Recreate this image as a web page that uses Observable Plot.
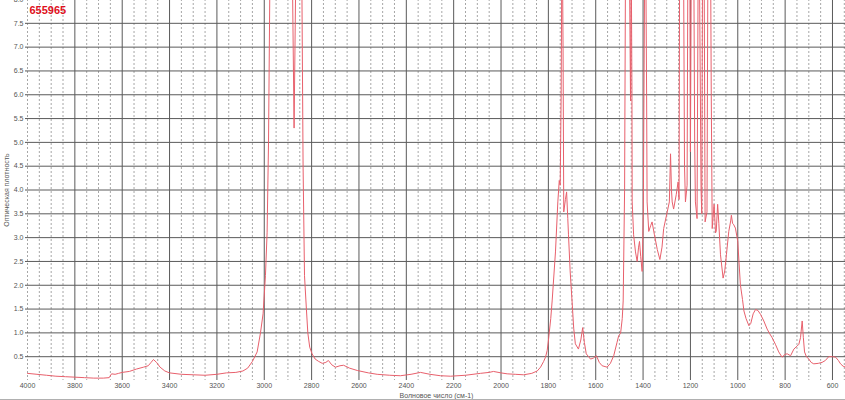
<!DOCTYPE html>
<html>
<head>
<meta charset="utf-8">
<script src="https://cdn.jsdelivr.net/npm/d3@7"></script>
<script src="https://cdn.jsdelivr.net/npm/@observablehq/plot@0.6"></script>
<style>
  html, body { margin: 0; padding: 0; background: #fff; }
  #chart { width: 845px; height: 399px; border-bottom: 1px solid #b0b0b0; overflow: hidden; }
  svg { font-family: "Liberation Sans", Arial, sans-serif; }
</style>
</head>
<body>
<div id="chart"></div>
<script>
const title = "655965";
const xLabel = "Волновое число (см-1)";
const yLabel = "Оптическая плотность";

const xTicks = [4000, 3800, 3600, 3400, 3200, 3000, 2800, 2600, 2400, 2200, 2000, 1800, 1600, 1400, 1200, 1000, 800, 600];
const yTicks = [0.5, 1.0, 1.5, 2.0, 2.5, 3.0, 3.5, 4.0, 4.5, 5.0, 5.5, 6.0, 6.5, 7.0, 7.5, 8.0];

// wavenumber (cm-1) and absorbance; values above 8 run off the top
const wavenumber = [
  4000, 3960, 3920, 3880, 3840, 3800, 3760, 3720, 3680, 3655, 3645, 3630, 3615, 3600, 3570, 3540, 3510, 3490, 3478, 3468,
  3455, 3440, 3420, 3400, 3350, 3300, 3250, 3200, 3160, 3120, 3090, 3070, 3050, 3030, 3016, 3005, 2995, 2988, 2982, 2976,
  2970, 2950, 2920, 2890, 2880, 2874, 2868, 2860, 2850, 2842, 2836, 2830, 2822, 2816, 2808, 2798, 2785, 2770, 2755, 2740,
  2729, 2715, 2699, 2680, 2665, 2640, 2607, 2560, 2523, 2470, 2425, 2380, 2340, 2300, 2256, 2213, 2150, 2087, 2050, 2032,
  2000, 1974, 1940, 1904, 1870, 1847, 1833, 1820, 1812, 1805, 1800, 1790, 1784, 1770, 1760, 1754, 1750, 1746, 1742, 1738,
  1735, 1728, 1723, 1718, 1715, 1708, 1700, 1693, 1686, 1673, 1663, 1655, 1648, 1640, 1622, 1610, 1597, 1585, 1573, 1552,
  1538, 1524, 1510, 1503, 1495, 1488, 1484, 1478, 1474, 1465, 1458, 1453, 1450, 1447, 1446, 1440, 1432, 1425, 1419, 1415,
  1410, 1404, 1399, 1394, 1390, 1385, 1383, 1376, 1368, 1362, 1352, 1340, 1329, 1320, 1313, 1298, 1289, 1284, 1280, 1277,
  1271, 1260, 1252, 1248, 1245, 1236, 1230, 1225, 1221, 1214, 1210, 1203, 1200, 1195, 1187, 1182, 1179, 1172, 1168, 1165,
  1161, 1155, 1152, 1148, 1143, 1138, 1130, 1126, 1122, 1116, 1112, 1108, 1100, 1094, 1091, 1085, 1080, 1073, 1062, 1055,
  1048, 1038, 1030, 1027, 1022, 1017, 1010, 1000, 995, 989, 980, 974, 965, 953, 945, 935, 925, 915, 904, 890,
  876, 865, 855, 841, 827, 813, 800, 791, 777, 763, 750, 742, 735, 728, 723, 718, 710, 700, 690, 679,
  660, 644, 630, 616, 600, 587, 575, 566, 555, 545
];
const absorbance = [
  0.15, 0.13, 0.11, 0.09, 0.08, 0.07, 0.06, 0.05, 0.05, 0.06, 0.14, 0.13, 0.15, 0.17, 0.19, 0.24, 0.28, 0.31, 0.38, 0.44,
  0.38, 0.28, 0.20, 0.16, 0.13, 0.12, 0.11, 0.13, 0.16, 0.17, 0.20, 0.26, 0.40, 0.60, 1.00, 1.40, 2.20, 3.10, 5.00, 8.50,
  9.5, 10, 10, 10, 8, 5.3, 8, 10, 10, 9, 4.5, 2.2, 1.5, 1.0, 0.70, 0.56, 0.45, 0.40, 0.36, 0.38,
  0.42, 0.33, 0.28, 0.31, 0.32, 0.26, 0.21, 0.16, 0.13, 0.11, 0.10, 0.13, 0.17, 0.13, 0.10, 0.09, 0.11, 0.15, 0.17, 0.19,
  0.16, 0.14, 0.13, 0.12, 0.15, 0.20, 0.28, 0.40, 0.49, 0.63, 0.83, 1.30, 1.67, 2.70, 3.75, 4.20, 4.10, 6.0, 10, 7.0,
  3.54, 3.80, 3.96, 3.40, 3.06, 2.30, 1.67, 1.10, 0.77, 0.66, 0.85, 1.11, 0.80, 0.56, 0.45, 0.47, 0.52, 0.38, 0.31, 0.28,
  0.36, 0.52, 0.80, 0.94, 0.99, 1.30, 1.67, 4.0, 9, 10, 9, 5.87, 9, 6, 3.75, 3.06, 2.70, 2.50, 2.80, 2.92,
  2.60, 2.29, 3.50, 8, 10, 6, 3.75, 3.13, 3.25, 3.33, 3.06, 2.75, 2.54, 2.80, 3.19, 3.54, 3.75, 4.76, 4.00, 3.75,
  3.60, 3.90, 4.17, 3.80, 10, 10, 10, 4.50, 3.75, 4.10, 10, 10, 4.80, 10, 10, 5.0, 3.75, 3.40, 8, 10,
  8, 4.0, 3.50, 10, 10, 3.33, 3.54, 9, 10, 10, 6, 3.19, 3.70, 3.10, 3.13, 3.70, 3.30, 2.64, 2.15, 2.30,
  2.64, 3.13, 3.35, 3.47, 3.30, 3.27, 3.20, 2.92, 2.50, 2.01, 1.70, 1.46, 1.30, 1.15, 1.20, 1.40, 1.49, 1.47, 1.39, 1.25,
  1.08, 0.98, 0.90, 0.76, 0.60, 0.49, 0.55, 0.56, 0.52, 0.66, 0.72, 0.76, 0.90, 1.25, 0.90, 0.60, 0.50, 0.45, 0.38, 0.35,
  0.36, 0.38, 0.42, 0.50, 0.50, 0.49, 0.42, 0.35, 0.30, 0.28
];

const spectrum = wavenumber.map((w, i) => ({w, a: absorbance[i]}));
const xMinor = d3.range(4000, 545, -50).filter(d => d % 200 !== 0 || d === 4000);
const xMajor = xTicks.filter(d => d !== 4000);

const plot = Plot.plot({
  width: 845,
  height: 399,
  marginTop: -1,
  marginBottom: 19,
  marginLeft: 27,
  marginRight: 0,
  style: {fontSize: "7px", color: "#555", background: "#fff", fontFamily: "Liberation Sans, Arial, sans-serif"},
  x: {
    domain: [4000, 545],
    ticks: xTicks,
    tickFormat: d => String(d),
    tickSize: 0,
    tickPadding: 3,
    label: xLabel,
    labelArrow: "none",
    labelAnchor: "center",
    labelOffset: 17
  },
  y: {
    domain: [0, 8],
    ticks: yTicks,
    tickFormat: d3.format(".1f"),
    tickSize: 2,
    tickPadding: 2,
    label: yLabel,
    labelArrow: "none",
    labelAnchor: "center",
    labelOffset: 23
  },
  marks: [
    Plot.ruleX(xMinor, {stroke: "#909090", strokeWidth: 0.8, strokeDasharray: "2,2"}),
    Plot.ruleX(xMajor, {stroke: "#5a5a5a", strokeWidth: 1}),
    Plot.ruleY(yTicks, {stroke: "#5a5a5a", strokeWidth: 1}),
    Plot.line(spectrum, {x: "w", y: "a", stroke: "#e8606c", strokeWidth: 1, clip: true}),
    Plot.text([title], {frameAnchor: "top-left", dx: 2, dy: 7, fill: "#e01020", fontSize: 11, fontWeight: "bold", textAnchor: "start"})
  ]
});

document.getElementById("chart").appendChild(plot);
</script>
</body>
</html>
